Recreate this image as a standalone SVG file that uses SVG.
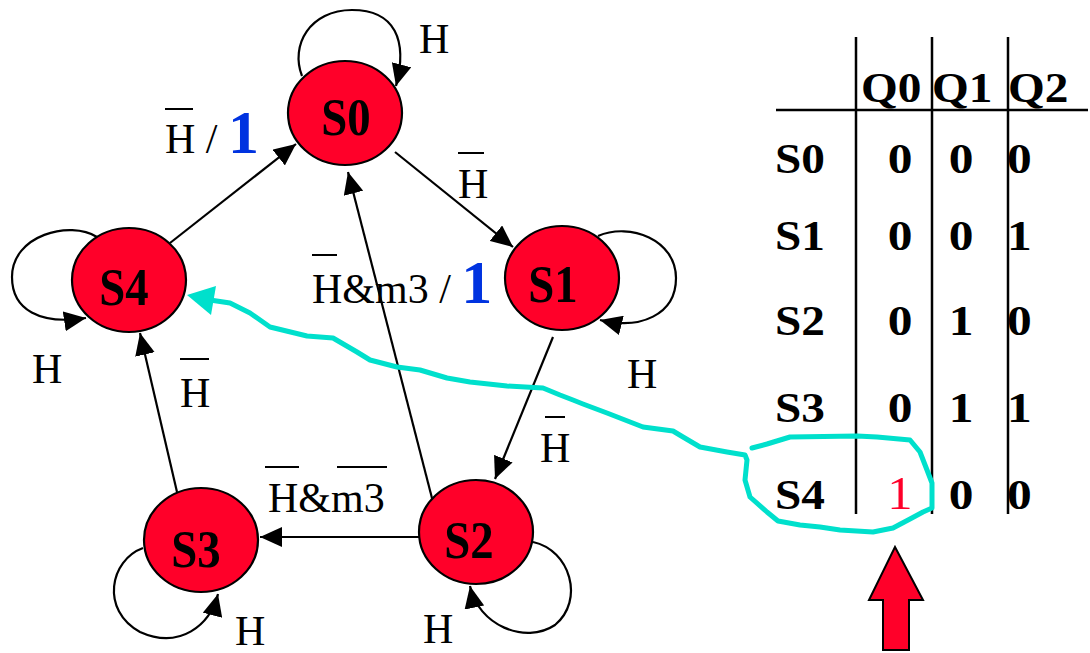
<svg xmlns="http://www.w3.org/2000/svg" width="1090" height="653" viewBox="0 0 1090 653">
<defs>
<style>
.node{fill:#ff0029;stroke:#000;stroke-width:2.2}
.nl{font-family:"Liberation Serif",serif;font-weight:bold;font-size:52px;fill:#000;text-anchor:middle}
.edge{fill:none;stroke:#000;stroke-width:2.2}
.lbl{font-family:"Liberation Serif",serif;font-size:42px;fill:#000}
.bar{stroke:#000;stroke-width:2}
.blue{fill:#0033e0;font-weight:bold;font-size:62px}
.tb{font-family:"Liberation Serif",serif;font-weight:bold;font-size:43px;fill:#000}
.grid{stroke:#000;stroke-width:2.5}
</style>
<marker id="ah" markerUnits="userSpaceOnUse" markerWidth="22" markerHeight="20" refX="22" refY="10" orient="auto">
<path d="M0,0 L22,10 L0,20 z" fill="#000"/>
</marker>
</defs>
<rect width="1090" height="653" fill="#fff"/>

<g id="connectors">
<path class="edge" marker-end="url(#ah)" d="M302,76 C290,45 310,10 352,10 C395,10 408,40 396,86"/>
<path class="edge" marker-end="url(#ah)" d="M598,236 C630,222 676,240 676,278 C676,315 640,330 600,320"/>
<path class="edge" marker-end="url(#ah)" d="M97,237 C70,220 12,235 12,277 C12,310 40,325 86,318"/>
<path class="edge" marker-end="url(#ah)" d="M143,548 C110,560 100,610 140,632 C180,650 210,625 218,594"/>
<path class="edge" marker-end="url(#ah)" d="M533,542 C570,550 585,600 555,625 C525,645 478,625 470,586"/>
<path class="edge" marker-end="url(#ah)" d="M395,152 L513,247"/>
<path class="edge" marker-end="url(#ah)" d="M170,243 L296,144"/>
<path class="edge" marker-end="url(#ah)" d="M433,502 L348,172"/>
<path class="edge" marker-end="url(#ah)" d="M553,337 L495,479"/>
<path class="edge" marker-end="url(#ah)" d="M420,537 L260,537"/>
<path class="edge" marker-end="url(#ah)" d="M177,492 L140,333"/>
</g>

<g id="edge-labels">
<text class="lbl" x="419" y="53">H</text>
<text class="lbl" x="32" y="383">H</text>
<text class="lbl" x="627" y="388">H</text>
<text class="lbl" x="235" y="645">H</text>
<text class="lbl" x="423" y="643">H</text>
<text class="lbl" x="180" y="407">H</text>
<line class="bar" x1="180" y1="359" x2="209" y2="359"/>
<text class="lbl" x="540" y="462">H</text>
<line class="bar" x1="545" y1="417" x2="565" y2="417"/>
<text class="lbl" x="458" y="198">H</text>
<line class="bar" x1="458" y1="153" x2="484" y2="153"/>
<text class="lbl" x="165" y="153">H / <tspan class="blue">1</tspan></text>
<line class="bar" x1="165" y1="109" x2="193" y2="109"/>
<text class="lbl" x="312" y="303">H&amp;m3 / <tspan class="blue">1</tspan></text>
<line class="bar" x1="312" y1="255" x2="337" y2="255"/>
<text class="lbl" x="268" y="512">H&amp;m3</text>
<line class="bar" x1="265" y1="467" x2="299" y2="467"/>
<line class="bar" x1="337" y1="467" x2="387" y2="467"/>
</g>

<g id="S0"><ellipse class="node" cx="345" cy="113" rx="57" ry="52"/><text class="nl" transform="translate(346,135) scale(0.9,1)">S0</text></g>
<g id="S1"><ellipse class="node" cx="562" cy="278" rx="57" ry="52"/><text class="nl" transform="translate(553,302) scale(0.9,1)">S1</text></g>
<g id="S2"><ellipse class="node" cx="476" cy="532" rx="57" ry="52"/><text class="nl" transform="translate(469,558) scale(0.9,1)">S2</text></g>
<g id="S3"><ellipse class="node" cx="201" cy="540" rx="57" ry="52"/><text class="nl" transform="translate(196,567) scale(0.9,1)">S3</text></g>
<g id="S4"><ellipse class="node" cx="129" cy="280" rx="57" ry="52"/><text class="nl" transform="translate(124,305) scale(0.9,1)">S4</text></g>

<g id="table">
<line class="grid" x1="856" y1="37" x2="856" y2="514"/>
<line class="grid" x1="932" y1="37" x2="932" y2="514"/>
<line class="grid" x1="1008" y1="37" x2="1008" y2="514"/>
<line class="grid" x1="776" y1="110" x2="1088" y2="110"/>
<text class="tb" transform="translate(861,102) scale(1.1,1)">Q0</text>
<text class="tb" transform="translate(932,102) scale(1.1,1)">Q1</text>
<text class="tb" transform="translate(1008,102) scale(1.1,1)">Q2</text>
<g>
<text class="tb" transform="translate(775,173) scale(1.1,1)">S0</text>
<text class="tb" transform="translate(900,173) scale(1.15,1)" text-anchor="middle">0</text>
<text class="tb" transform="translate(961,173) scale(1.15,1)" text-anchor="middle">0</text>
<text class="tb" transform="translate(1007,173) scale(1.15,1)">0</text>
</g>
<g>
<text class="tb" transform="translate(775,250) scale(1.1,1)">S1</text>
<text class="tb" transform="translate(900,250) scale(1.15,1)" text-anchor="middle">0</text>
<text class="tb" transform="translate(961,250) scale(1.15,1)" text-anchor="middle">0</text>
<text class="tb" transform="translate(1007,250) scale(1.15,1)">1</text>
</g>
<g>
<text class="tb" transform="translate(775,335) scale(1.1,1)">S2</text>
<text class="tb" transform="translate(900,335) scale(1.15,1)" text-anchor="middle">0</text>
<text class="tb" transform="translate(961,335) scale(1.15,1)" text-anchor="middle">1</text>
<text class="tb" transform="translate(1007,335) scale(1.15,1)">0</text>
</g>
<g>
<text class="tb" transform="translate(775,422) scale(1.1,1)">S3</text>
<text class="tb" transform="translate(900,422) scale(1.15,1)" text-anchor="middle">0</text>
<text class="tb" transform="translate(961,422) scale(1.15,1)" text-anchor="middle">1</text>
<text class="tb" transform="translate(1007,422) scale(1.15,1)">1</text>
</g>
<g>
<text class="tb" transform="translate(775,509) scale(1.1,1)">S4</text>
<text class="tb" transform="translate(900,509) scale(1.1,1)" text-anchor="middle" style="font-weight:normal;font-size:46px;fill:#ff0029">1</text>
<text class="tb" transform="translate(961,509) scale(1.15,1)" text-anchor="middle">0</text>
<text class="tb" transform="translate(1007,509) scale(1.15,1)">0</text>
</g>
</g>

<g id="highlight">
<polyline fill="none" stroke="#00e0cc" stroke-width="5" stroke-linejoin="round" stroke-linecap="round" points="752,448 767,444 790,437 857,436 877,437 910,440 920,452 927,470 932,483 932,508 923,512 910,519 893,528 873,532 840,530 820,527 800,525 778,521 767,512 750,497 745,480 747,460 745,455 727,452 700,447 683,437 673,431 643,427 607,413 583,404 573,400 560,395 543,388 507,386 470,382 447,378 420,370 397,367 370,360 357,352 333,338 307,336 270,327 250,313 230,303 210,300"/>
<polygon fill="#00e0cc" points="187,295 216,286 211,315"/>
</g>

<g id="pointer">
<polygon fill="#ff0029" stroke="#000" stroke-width="2" points="895,547 869,600 883,600 883,650 909,650 909,600 923,600"/>
</g>
</svg>
